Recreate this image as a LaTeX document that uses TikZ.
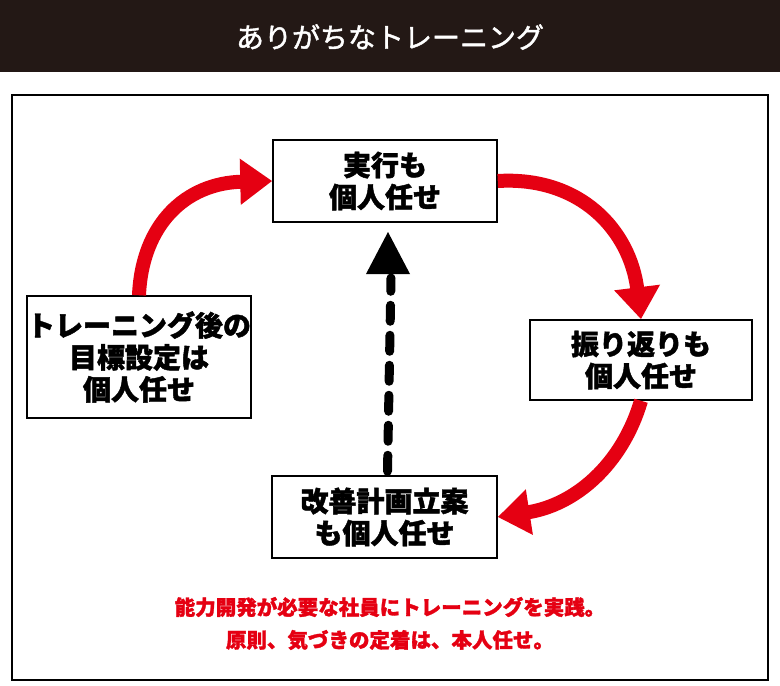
\documentclass[tikz,border=0pt]{standalone}
\usepackage{fontspec}
\setmainfont{Noto Sans CJK JP}[FakeBold=1.5]
\usetikzlibrary{arrows.meta}
\definecolor{hdr}{HTML}{231815}
\definecolor{myred}{HTML}{E50012}
\begin{document}
\begin{tikzpicture}[x=1pt,y=-1pt,
  box/.style={draw,line width=1.5pt,fill=white,align=center,font=\bfseries\fontsize{28}{32}\selectfont,inner sep=0pt},
  redarr/.style={draw=myred,line width=14pt,-{Triangle[width=44pt,length=32pt]}},
  captext/.style={font=\bfseries\fontsize{20.5}{24}\selectfont,text=myred,align=center}]
\useasboundingbox (0,0) rectangle (780,686);
\fill[white] (0,0) rectangle (780,686);
\fill[hdr] (0,0) rectangle (780,72);
\node[text=white,font=\fontsize{28}{32}\selectfont] (title) at (390,37) {ありがちなトレーニング};
\draw[line width=2pt] (12,95) rectangle (768,680);
\node[box,minimum width=224pt,minimum height=82pt] (top) at (385,181) {実行も\\個人任せ};
\node[box,minimum width=222pt,minimum height=80pt] (right) at (641,360) {振り返りも\\個人任せ};
\node[box,minimum width=225pt,minimum height=82pt] (bot) at (384.5,517) {改善計画立案\\も個人任せ};
\node[box,minimum width=222pt,minimum height=122pt] (left) at (139,357) {トレーニング後の\\目標設定は\\個人任せ};
\draw[redarr] (left.north) .. controls (142,225) and (185,183) .. (top.west);
\draw[redarr] (top.east) .. controls (580,176) and (630,230) .. (right.north);
\draw[redarr] (right.south) .. controls (622,465) and (575,505) .. (bot.east);
\coordinate (tip) at (388,232);
\draw[line width=9pt,dash pattern=on 16pt off 14pt,line cap=round] (bot.north) ++(3,-4) -- (391,278);
\fill (366,274) -- (tip) -- (410,274) -- cycle;
\node[captext] (c1) at (390,607) {能力開発が必要な社員にトレーニングを実践。};
\node[captext] (c2) at (390,640) {原則、気づきの定着は、本人任せ。};
\end{tikzpicture}
\end{document}
